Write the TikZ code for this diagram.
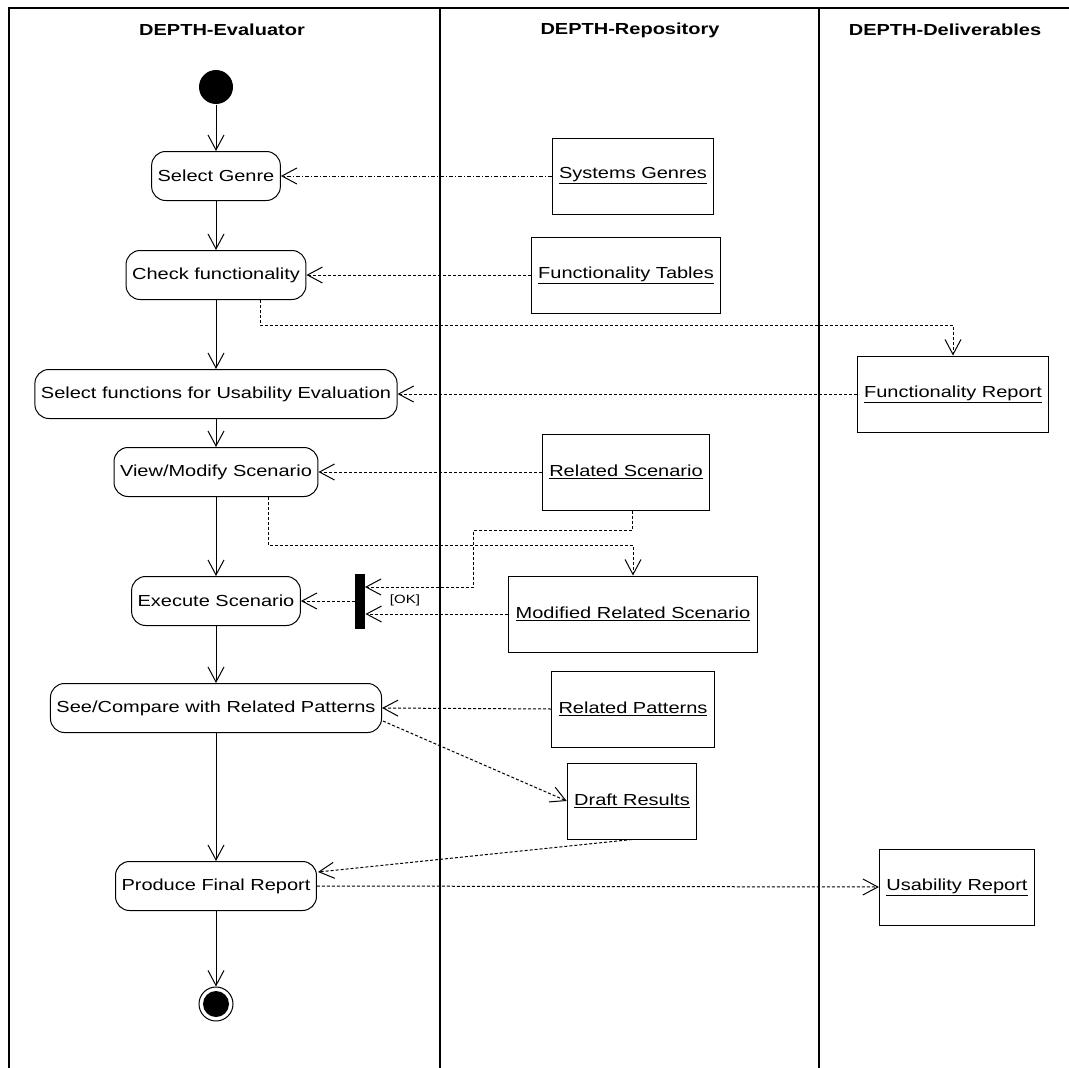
\documentclass[tikz,border=0pt]{standalone}
\usepackage{fontspec}
\setmainfont{Liberation Sans}[FakeStretch=1.25]
\usepackage{tikz}
\usetikzlibrary{arrows.meta}
\usetikzlibrary{calc}

\tikzset{
  activity/.style={draw, rounded corners=14pt, minimum height=49pt, inner xsep=6pt, font=\fontsize{16}{19}\selectfont},
  objbox/.style={draw, minimum height=76pt, inner xsep=7pt, font=\fontsize{16}{19}\selectfont},
  lanehead/.style={font=\bfseries\fontsize{16}{19}\selectfont},
  flow/.style={-{Straight Barb[length=15pt,width=16pt]}},
  dep/.style={dash pattern=on 3pt off 2pt, -{Straight Barb[length=15pt,width=16pt]}},
}

\begin{document}
\begin{tikzpicture}[x=1pt, y=-1pt, line width=1pt]
\path[use as bounding box, fill=white] (0,0) rectangle (1069,1068);

%% 레인
\draw[line width=1.3pt] (9,1068) -- (9,8) -- (1069,8);
\draw[line width=1.3pt] (440,8) -- (440,1068);
\draw[line width=1.3pt] (819,8) -- (819,1068);
\node[lanehead] (hdeval) at (222,30) {DEPTH-Evaluator};
\node[lanehead] (hdrepo) at (630,30) {DEPTH-Repository};
\node[lanehead] (hddeliv) at (945,30) {DEPTH-Deliverables};

%% 활동
\node[circle, fill, minimum size=34pt, inner sep=0] (start) at (216,87) {};
\node[activity] (genre) at (216,176) {Select Genre};
\node[activity] (check) at (216,275) {Check functionality};
\node[activity] (selfun) at (216,394) {Select functions for Usability Evaluation};
\node[activity] (modify) at (216,472) {View/Modify Scenario};
\node[activity] (exec) at (216,601) {Execute Scenario};
\node[activity] (compare) at (216,708) {See/Compare with Related Patterns};
\node[activity] (produce) at (216,886) {Produce Final Report};
\node[circle, draw, fill=white, minimum size=34pt, inner sep=0] (finish) at (216,1004) {};
\fill (finish.center) circle (13pt);

\node[fill, minimum width=10pt, minimum height=55pt, inner sep=0] (okbar) at (360,601) {};
\node[font=\fontsize{12}{14}\selectfont] (okguard) at (405,600) {[OK]};

%% 객체
\node[objbox] (sysgen) at (633,176) {\underline{Systems Genres}};
\node[objbox] (functab) at (626,275) {\underline{Functionality Tables}};
\node[objbox] (relscen) at (626,472) {\underline{Related Scenario}};
\node[objbox] (modscen) at (633,614) {\underline{Modified Related Scenario}};
\node[objbox] (relpat) at (633,709) {\underline{Related Patterns}};
\node[objbox] (draft) at (632,801) {\underline{Draft Results}};
\node[objbox] (funrep) at (953,394) {\underline{Functionality Report}};
\node[objbox] (usarep) at (957,887) {\underline{Usability Report}};

\coordinate (cfbend) at (260,325); % 꺾이는 점
\coordinate (mvbend) at (268,545);
\coordinate (rsbend) at (632,530);
\coordinate (rsjog) at (473,530);
\coordinate (okup) at (365,587);
\coordinate (cmpout) at (383,721);
\coordinate (prodin) at (318,872);

% 제어 흐름
\draw[flow] (start) -- (genre);
\draw[flow] (genre) -- (check);
\draw[flow] (check) -- (selfun);
\draw[flow] (selfun) -- (modify);
\draw[flow] (modify) -- (exec);
\draw[flow] (exec) -- (compare);
\draw[flow] (compare) -- (produce);
\draw[flow] (produce) -- (finish);

% 객체 흐름
\draw[dep, dash pattern=on 4pt off 2pt on 1pt off 2pt] (sysgen.west) -- (genre.east);
\draw[dep] (functab.west) -- (check.east);
\draw[dep] (check.south -| cfbend) -- (cfbend) -| (funrep.north);
\draw[dep] (funrep.west) -- (selfun.east);
\draw[dep] (relscen.west) -- (modify.east);
\draw[dep] (modify.south -| mvbend) -- (mvbend) -| (modscen.north);
\draw[dep] (relscen.south -| rsbend) -- (rsbend) -- (rsjog) |- (okup);
\draw[dep] (modscen.west) -- (okbar.east |- modscen.west);
\draw[dep] (okbar.west) -- (exec.east);
\draw[dep] (relpat.west) -- (compare.east);
\draw[dep] (cmpout) -- (draft.west);
\draw[dep] (draft.south) -- (prodin);
\draw[dep] (produce.east) -- (usarep.west);
\end{tikzpicture}
\end{document}
